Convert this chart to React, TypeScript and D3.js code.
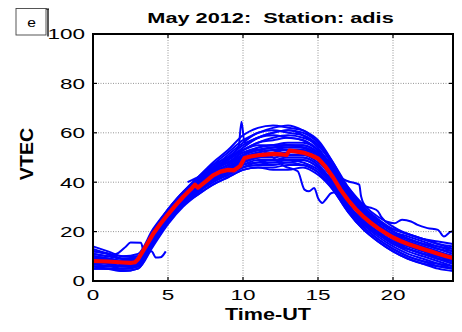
import React from "react";
import * as d3 from "d3";

const W = 462;
const H = 332;
const X0 = 93;
const X1 = 453;
const Y0 = 281;
const Y1 = 34;

const FONT = "'Liberation Sans', Arial, Helvetica, sans-serif";

const titleText = "May 2012:  Station: adis";
const xLabel = "Time-UT";
const yLabel = "VTEC";
const panelTag = "e";

const xTicks = [0, 5, 10, 15, 20];
const yTicks = [0, 20, 40, 60, 80, 100];

// hourly VTEC (TECU) for each day, hours 0..24
const hours = d3.range(0, 25);
const dailyVtec: number[][] = [
  [10, 9, 8, 9, 20, 29, 36, 42, 48, 53, 59, 62, 63, 62, 61, 56, 47, 37, 29, 24, 20, 17, 15, 13, 11],
  [8, 7, 6, 7, 17, 26, 33, 39, 45, 50, 55, 58, 60, 61, 59, 54, 45, 35, 27, 22, 18, 15, 13, 11, 9],
  [12, 11, 10, 11, 21, 29, 36, 41, 46, 49, 53, 56, 57, 58, 57, 53, 46, 36, 29, 25, 21, 19, 17, 15, 13],
  [6, 5, 5, 6, 15, 24, 31, 36, 41, 44, 48, 50, 51, 52, 52, 49, 41, 31, 24, 19, 15, 12, 10, 8, 6],
  [7, 6, 6, 6, 16, 25, 32, 37, 41, 43, 46, 47, 48, 48, 49, 46, 39, 30, 23, 18, 14, 11, 9, 7, 5],
  [9, 8, 7, 8, 18, 27, 34, 39, 44, 47, 51, 53, 54, 55, 55, 52, 44, 34, 27, 22, 18, 16, 14, 12, 10],
  [14, 12, 10, 10, 19, 27, 34, 38, 42, 45, 48, 50, 50, 51, 51, 48, 42, 34, 28, 24, 21, 19, 17, 16, 15],
  [5, 5, 4, 5, 14, 23, 30, 35, 39, 42, 45, 46, 46, 47, 47, 44, 37, 28, 21, 16, 12, 9, 7, 5, 4],
  [8, 8, 7, 8, 18, 28, 35, 41, 46, 51, 56, 60, 61, 60, 59, 55, 47, 36, 28, 22, 18, 15, 13, 11, 9],
  [11, 10, 9, 9, 19, 27, 33, 38, 43, 46, 49, 51, 52, 53, 53, 50, 43, 33, 26, 21, 17, 14, 12, 10, 8],
  [6, 6, 5, 6, 16, 26, 33, 38, 42, 45, 49, 51, 51, 50, 50, 47, 40, 31, 24, 19, 15, 13, 11, 9, 7],
  [9, 9, 8, 9, 19, 28, 35, 40, 45, 48, 51, 54, 55, 56, 56, 53, 46, 37, 30, 25, 20, 17, 15, 13, 12],
  [7, 7, 6, 7, 17, 25, 31, 35, 39, 42, 45, 46, 45, 45, 46, 43, 37, 29, 22, 17, 13, 10, 8, 7, 6],
  [10, 9, 8, 8, 18, 27, 35, 41, 47, 52, 57, 60, 62, 63, 61, 57, 48, 37, 29, 23, 19, 16, 14, 12, 10],
  [8, 7, 6, 7, 16, 25, 32, 37, 41, 44, 47, 49, 49, 50, 50, 47, 40, 31, 24, 19, 16, 13, 11, 9, 8],
  [13, 11, 9, 9, 18, 26, 33, 38, 43, 46, 50, 52, 53, 54, 54, 51, 44, 35, 28, 23, 19, 17, 15, 13, 11],
  [6, 5, 4, 5, 15, 24, 31, 36, 40, 43, 46, 48, 48, 49, 48, 45, 38, 29, 22, 17, 13, 10, 8, 6, 5],
  [9, 8, 8, 9, 20, 29, 36, 42, 47, 50, 53, 55, 55, 55, 54, 51, 44, 35, 27, 22, 18, 15, 13, 11, 9],
  [7, 6, 6, 7, 17, 26, 33, 38, 43, 46, 50, 52, 53, 53, 52, 49, 42, 33, 25, 20, 16, 13, 11, 9, 7],
  [10, 9, 8, 9, 18, 26, 32, 37, 41, 44, 47, 48, 49, 49, 49, 46, 39, 30, 23, 19, 15, 13, 11, 10, 9],
  [8, 8, 7, 7, 16, 25, 32, 38, 44, 49, 54, 58, 60, 61, 60, 56, 48, 38, 30, 24, 20, 17, 15, 14, 12],
  [12, 11, 9, 9, 18, 26, 33, 38, 42, 45, 48, 50, 51, 52, 53, 50, 44, 36, 29, 24, 20, 18, 16, 14, 13],
  [5, 5, 5, 6, 15, 24, 31, 36, 40, 43, 46, 47, 47, 48, 47, 44, 37, 28, 21, 16, 12, 9, 7, 6, 5],
  [9, 8, 7, 8, 17, 26, 33, 39, 44, 47, 51, 53, 54, 54, 54, 51, 44, 35, 27, 22, 18, 15, 13, 11, 10],
];

// days with disturbed or missing samples: [hour, VTEC], null marks a data gap
const irregularDays: [number, number | null][][] = [
  [[0, 11], [1, 10], [1.7, 11.4], [2.2, 14], [2.5, 15.6], [3.2, 15.5], [3.4, 11.4], [3.9, 12], [4.2, 9.5], [4.5, 9.6], [4.85, 12], [5.5, null],
   [6.3, 40], [7, 42], [8, 45], [9, 48], [10, 52], [11, 54], [12, 55], [13, 55], [14, 54], [15, 51], [16, 43], [17, 34], [18, 27], [19, 22], [20, 18], [21, 15], [22, 13], [23, 11], [24, 9]],
  [[0, 9], [1, 8], [2, 7], [3, 8], [4, 18], [5, 27], [6, 34], [7, 40], [8, 45], [9, 48], [10, 52], [11, 53], [12, 50], [12.75, 46.5], [13.65, 44.4], [14.1, 37], [14.4, 36.3], [14.75, 37.7], [15, 33.6], [15.3, 31.6], [15.5, 32.9], [15.9, 35.6], [16.3, 36], [17, 30], [18, 24], [19, 20], [20, 16], [21, 14], [22, 12], [23, 10], [24, 8]],
  [[0, 10], [1, 9], [2, 8], [3, 9], [4, 18], [5, 27], [6, 34], [7, 40], [8, 45], [9, 49], [10, 53], [11, 56], [12, 58], [13, 59], [14, 58], [15, 55], [16, 47], [16.5, 42], [17, 40.4], [17.75, 39], [17.87, 34.3], [18.2, 30.2], [18.6, 29.5], [19, 28.2], [19.2, 26.1], [20, 22], [21, 19], [22, 17], [23, 15], [24, 14]],
  [[0, 12], [1, 11], [2, 9], [3, 10], [4, 19], [5, 27], [6, 34], [7, 39], [8, 44], [9, 47], [10, 51], [11, 53], [12, 54], [13, 55], [14, 55], [15, 52], [16, 46], [17, 38], [18, 31], [19, 26], [19.6, 24], [20.1, 23.4], [20.6, 24.8], [21.2, 24.1], [21.6, 22.8], [22.3, 21.4], [23, 20.7], [23.4, 18], [23.9, 20], [24, 20]],
  [[0, 9], [1, 8], [2, 7], [3, 8], [4, 17], [5, 26], [6, 33], [7, 39], [8, 45], [9, 50], [9.7, 54], [9.9, 64.5], [10.1, 56], [11, 58], [12, 59], [13, 58], [14, 57], [15, 53], [16, 45], [17, 35], [18, 27], [19, 22], [20, 18], [21, 15], [22, 13], [23, 11], [24, 10]],
];

// monthly mean VTEC: [hour, VTEC]
const meanVtec: [number, number][] = [
  [0, 8.1], [0.5, 8.0], [1, 7.9], [1.5, 7.7], [2, 7.5], [2.5, 7.3], [2.8, 7.6], [3, 8.8], [3.5, 13.8], [4, 19], [4.5, 23.2],
  [5, 27], [5.5, 30.6], [6, 34], [6.5, 37], [6.8, 39], [7, 37.8], [7.5, 40.2], [8, 42.8], [8.5, 44.3], [9, 45], [9.4, 44.8],
  [9.8, 46.5], [10.1, 49.8], [10.5, 50.4], [11, 50.9], [11.5, 51.2], [12, 51.5], [12.5, 51.3], [12.9, 51], [13.1, 52.8],
  [13.5, 52.5], [14, 52], [14.5, 51], [15, 49.6], [15.5, 46.3], [16, 42], [16.5, 37], [17, 32.8], [17.5, 29.2], [18, 26.2],
  [18.5, 23.6], [19, 21.4], [19.5, 19.4], [20, 17.6], [20.5, 16.2], [21, 15], [21.5, 14], [22, 13], [22.5, 12], [23, 11],
  [23.5, 10.1], [24, 9.3],
];

function StretchText(props: {
  x: number; y: number; sx: number; size: number; anchor: string; bold?: boolean; children: React.ReactNode; dy?: string;
}) {
  const { x, y, sx, size, anchor, bold, children, dy } = props;
  return (
    <text
      transform={`translate(${x},${y}) scale(${sx},1)`}
      textAnchor={anchor}
      dy={dy}
      fontFamily={FONT}
      fontSize={size}
      fontWeight={bold ? "bold" : "normal"}
      fill="#000"
      style={{ whiteSpace: "pre" }}
    >
      {children}
    </text>
  );
}

export default function App() {
  const x = d3.scaleLinear().domain([0, 24]).range([X0, X1]);
  const y = d3.scaleLinear().domain([0, 100]).range([Y0, Y1]);

  const dayLine = d3
    .line<[number, number | null]>()
    .defined((d) => d[1] != null)
    .x((d) => x(d[0]))
    .y((d) => y(d[1] as number))
    .curve(d3.curveMonotoneX);

  const meanLine = d3
    .line<[number, number]>()
    .x((d) => x(d[0]))
    .y((d) => y(d[1]));

  const dayPaths: string[] = [
    ...dailyVtec.map((vals) => dayLine(hours.map((h, i) => [h, vals[i]] as [number, number])) as string),
    ...irregularDays.map((pts) => dayLine(pts) as string),
  ];

  const tickLen = 4;

  return (
    <svg
      width={W}
      height={H}
      viewBox={`0 0 ${W} ${H}`}
      style={{ position: "absolute", left: 0, top: 0, display: "block", background: "#fff" }}
    >
      <rect x={0} y={0} width={W} height={H} fill="#fff" />

      {/* grid */}
      <g stroke="#7a7a7a" strokeWidth={0.8} strokeDasharray="1,1.5">
        {xTicks.filter((t) => t > 0).map((t) => (
          <line key={`gx${t}`} x1={x(t)} x2={x(t)} y1={Y0} y2={Y1} />
        ))}
        {yTicks.filter((t) => t > 0 && t < 100).map((t) => (
          <line key={`gy${t}`} x1={X0} x2={X1} y1={y(t)} y2={y(t)} />
        ))}
      </g>

      {/* daily curves */}
      <g fill="none" stroke="#0000ff" strokeWidth={2} strokeLinejoin="round">
        {dayPaths.map((p, i) => (
          <path key={i} d={p} />
        ))}
      </g>

      {/* monthly mean */}
      <path d={meanLine(meanVtec) as string} fill="none" stroke="#ff0000" strokeWidth={4.2} strokeLinejoin="round" />

      {/* axes box and inward ticks */}
      <g stroke="#000" strokeWidth={1.2}>
        {xTicks.map((t) => (
          <g key={`tx${t}`}>
            <line x1={x(t)} x2={x(t)} y1={Y0} y2={Y0 - tickLen} />
            <line x1={x(t)} x2={x(t)} y1={Y1} y2={Y1 + tickLen} />
          </g>
        ))}
        {yTicks.map((t) => (
          <g key={`ty${t}`}>
            <line x1={X0} x2={X0 + tickLen} y1={y(t)} y2={y(t)} />
            <line x1={X1} x2={X1 - tickLen} y1={y(t)} y2={y(t)} />
          </g>
        ))}
      </g>
      <rect x={X0} y={Y1} width={X1 - X0} height={Y0 - Y1} fill="none" stroke="#000" strokeWidth={2} />

      {/* tick labels */}
      {xTicks.map((t) => (
        <StretchText key={`lx${t}`} x={x(t)} y={300} sx={1.5} size={15} anchor="middle">
          {t}
        </StretchText>
      ))}
      {yTicks.map((t) => (
        <StretchText key={`ly${t}`} x={85} y={y(t)} dy="0.36em" sx={1.5} size={15} anchor="end">
          {t}
        </StretchText>
      ))}

      {/* title and axis labels */}
      <StretchText x={270.5} y={23} sx={1.45} size={15} anchor="middle" bold>
        {titleText}
      </StretchText>
      <StretchText x={268} y={320} sx={1.35} size={16} anchor="middle" bold>
        {xLabel}
      </StretchText>
      <text
        transform="translate(33.3,154) rotate(-90) scale(1.06,1)"
        textAnchor="middle"
        fontFamily={FONT}
        fontSize={18.5}
        fontWeight="bold"
        fill="#000"
      >
        {yLabel}
      </text>

      {/* panel tag */}
      <rect x={16} y={8.5} width={30} height={26.5} fill="#fff" stroke="#444" strokeWidth={0.9} />
      <line x1={48} x2={48} y1={9} y2={36.5} stroke="#000" strokeWidth={1.3} />
      <line x1={46} x2={49} y1={9} y2={9} stroke="#000" strokeWidth={1} />
      <StretchText x={31.5} y={27.3} sx={1.2} size={13} anchor="middle">
        {panelTag}
      </StretchText>
    </svg>
  );
}
